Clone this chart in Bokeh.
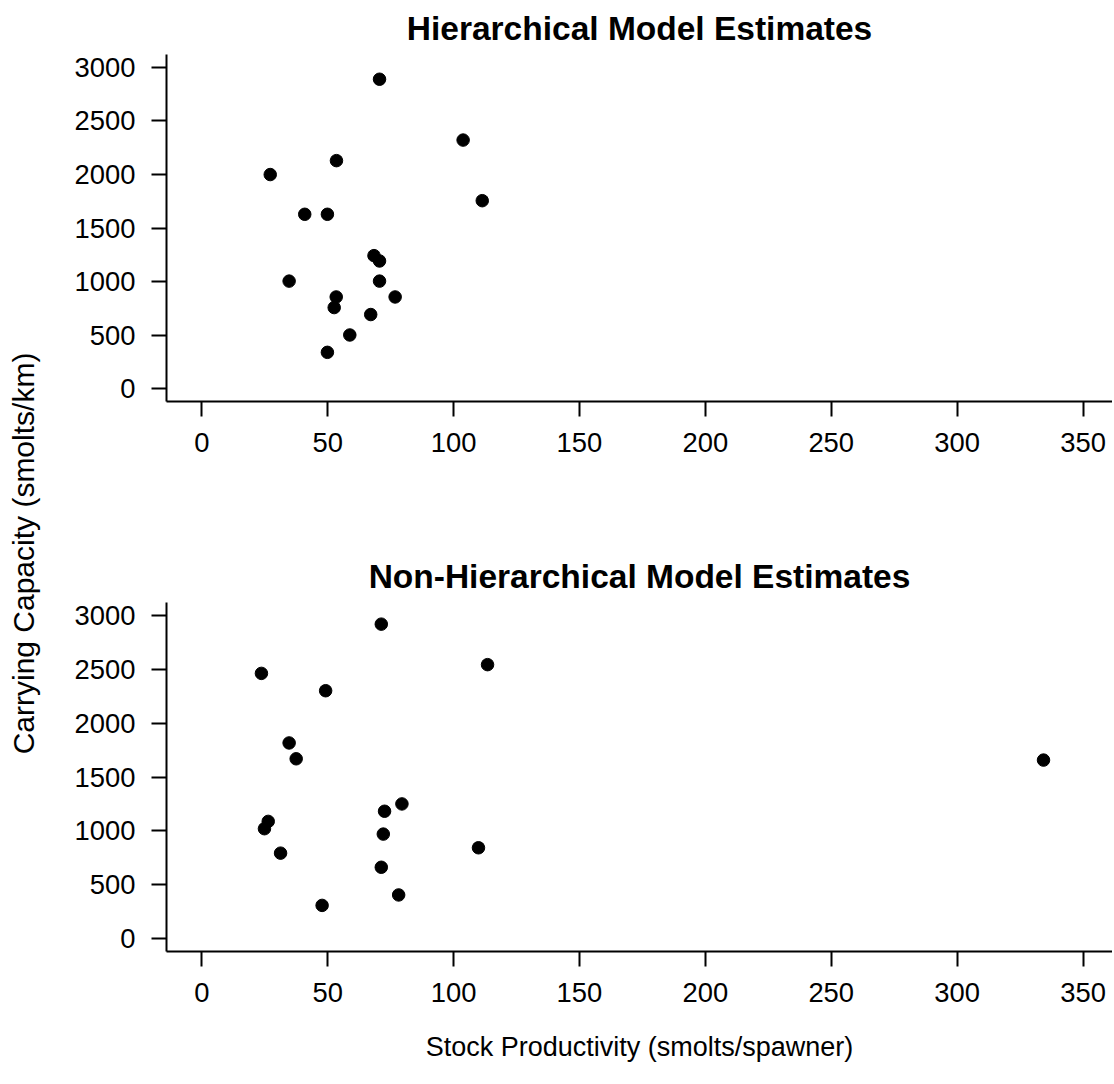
from bokeh.plotting import figure
from bokeh.layouts import row, column
from bokeh.models import Range1d, FixedTicker, Label
from bokeh.embed import file_html
from bokeh.resources import INLINE

# ---- data ----
hier_prod = [70.6, 103.8, 53.5, 27.2, 111.4, 40.9, 49.9, 68.4, 70.6, 34.7, 70.6, 53.4, 76.8, 52.6, 67.1, 58.8, 49.9]
hier_cap = [2889, 2321, 2129, 1999, 1755, 1628, 1628, 1242, 1192, 1004, 1004, 856, 856, 757, 692, 501, 339]
nonhier_prod = [71.3, 113.5, 23.7, 49.2, 34.7, 37.5, 79.5, 72.6, 26.4, 24.9, 72.1, 109.9, 31.3, 71.3, 78.2, 47.8, 334.3]
nonhier_cap = [2919, 2543, 2462, 2301, 1816, 1669, 1250, 1182, 1088, 1020, 970, 843, 793, 662, 405, 308, 1657]

x_ticks = [0, 50, 100, 150, 200, 250, 300, 350]
y_ticks = [0, 500, 1000, 1500, 2000, 2500, 3000]

titles = ["Hierarchical Model Estimates", "Non-Hierarchical Model Estimates"]
x_label = "Stock Productivity (smolts/spawner)"
y_label = "Carrying Capacity (smolts/km)"

FONT = "Liberation Sans"


def panel(xs, ys, title, height, top, bottom, xlab=None):
    p = figure(width=1064, height=height, output_backend="svg", toolbar_location=None,
               x_range=Range1d(-14, 361.7), y_range=Range1d(-120, 3120),
               min_border_left=118, min_border_right=0,
               min_border_top=top, min_border_bottom=bottom)
    p.title.text = title
    p.title.align = "center"
    p.title.text_font = FONT
    p.title.text_font_size = "33.5px"
    p.title.text_font_style = "bold"
    p.title.text_color = "black"
    p.title.standoff = 15
    p.outline_line_color = None
    p.xgrid.visible = False
    p.ygrid.visible = False
    p.background_fill_color = "white"
    p.border_fill_color = "white"
    p.xaxis.ticker = FixedTicker(ticks=x_ticks)
    p.yaxis.ticker = FixedTicker(ticks=y_ticks)
    for ax in (p.xaxis, p.yaxis):
        ax.axis_line_color = "black"
        ax.axis_line_width = 2
        ax.major_tick_line_color = "black"
        ax.major_tick_line_width = 2
        ax.major_tick_out = 15
        ax.major_tick_in = 0
        ax.minor_tick_line_color = None
        ax.major_label_text_font = FONT
        ax.major_label_text_font_size = "27.4px"
        ax.major_label_text_color = "black"
        ax.major_label_standoff = 16
    p.yaxis.major_label_orientation = "horizontal"
    if xlab:
        p.xaxis.axis_label = xlab
        p.xaxis.axis_label_text_font = FONT
        p.xaxis.axis_label_text_font_size = "27px"
        p.xaxis.axis_label_text_font_style = "normal"
        p.xaxis.axis_label_text_color = "black"
        p.xaxis.axis_label_standoff = 27
    p.scatter(xs, ys, size=12.5, color="black")
    return p


top = panel(hier_prod, hier_cap, titles[0], 548, 53, 147)
bot = panel(nonhier_prod, nonhier_cap, titles[1], 532, 54, 129, xlab=x_label)

lab = figure(width=48, height=1080, output_backend="svg", toolbar_location=None,
             x_range=Range1d(0, 48), y_range=Range1d(0, 1080),
             x_axis_type=None, y_axis_type=None, min_border=0)
lab.outline_line_color = None
lab.xgrid.visible = False
lab.ygrid.visible = False
lab.add_layout(Label(x=23, y=1080 - 553, text=y_label, angle=90, angle_units="deg",
                     text_align="center", text_baseline="middle",
                     text_font=FONT, text_font_size="30px", text_color="black"))

layout = row(lab, column(top, bot))
open("out.html", "w").write(file_html(layout, INLINE))
